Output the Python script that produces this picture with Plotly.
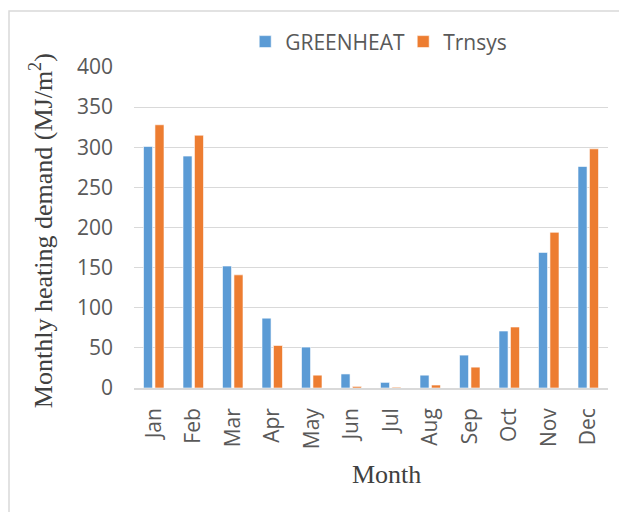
import plotly.graph_objects as go

# monthly heating demand (MJ/m2)
months = ['Jan', 'Feb', 'Mar', 'Apr', 'May', 'Jun',
          'Jul', 'Aug', 'Sep', 'Oct', 'Nov', 'Dec']
greenheat = [301, 289, 152, 87, 51, 17.5, 7, 16, 41, 71, 169, 276]
trnsys = [328, 315, 141, 53, 16, 2, 1, 3.7, 26, 76, 194, 298]

tick_vals = [0, 50, 100, 150, 200, 250, 300, 350, 400]

sans = 'Open Sans'
serif = 'Liberation Serif'
grey_txt = '#595959'
grid = '#d9d9d9'

fig = go.Figure()
fig.add_trace(go.Bar(x=months, y=greenheat, name='GREENHEAT',
                     marker=dict(color='#5b9bd5', line=dict(color='white', width=0.6))))
fig.add_trace(go.Bar(x=months, y=trnsys, name='Trnsys',
                     marker=dict(color='#ed7d31', line=dict(color='white', width=0.6))))

# the page body has an 8px margin, so the figure is 8px smaller and margins shifted
fig.update_layout(
    width=619, height=504,
    margin=dict(l=126, r=19, t=59, b=124),
    paper_bgcolor='white', plot_bgcolor='white',
    barmode='group', bargap=0.42, bargroupgap=0.21,
    font=dict(family=sans, size=21, color=grey_txt),
    showlegend=True,
    legend=dict(orientation='h', x=0.2346, xanchor='left', y=1.078, yanchor='middle',
                font=dict(family=sans, size=21, color=grey_txt),
                itemwidth=30, entrywidth=113, entrywidthmode='pixels',
                traceorder='normal', bgcolor='rgba(0,0,0,0)'),
)

fig.update_yaxes(range=[0, 400], tickvals=tick_vals, showgrid=True,
                 gridcolor=grid, gridwidth=1.3, zeroline=False, showline=False,
                 ticks='', ticklabelstandoff=20,
                 tickfont=dict(family=sans, size=21, color=grey_txt))
fig.update_xaxes(showline=True, linecolor=grid, linewidth=1.5, ticks='',
                 tickangle=-90, ticklabelstandoff=10,
                 tickfont=dict(family=sans, size=21, color=grey_txt))

# axis titles placed as annotations
fig.add_annotation(text='Monthly heating demand (MJ/m<sup>2</sup>)', textangle=-90,
                   xref='paper', yref='paper', x=-0.196, y=0.489,
                   xanchor='center', yanchor='middle', showarrow=False,
                   font=dict(family=serif, size=26, color='#404040'))
fig.add_annotation(text='Month', xref='paper', yref='paper', x=0.532, y=-0.271,
                   xanchor='center', yanchor='middle', showarrow=False,
                   font=dict(family=serif, size=26, color='#404040'))

# outer chart border
fig.add_shape(type='rect', xref='paper', yref='paper',
              x0=-0.2637, x1=1.2, y0=-0.6, y1=1.1745,
              line=dict(color=grid, width=1.5), fillcolor='rgba(0,0,0,0)', layer='below')

fig.write_html('out.html')
